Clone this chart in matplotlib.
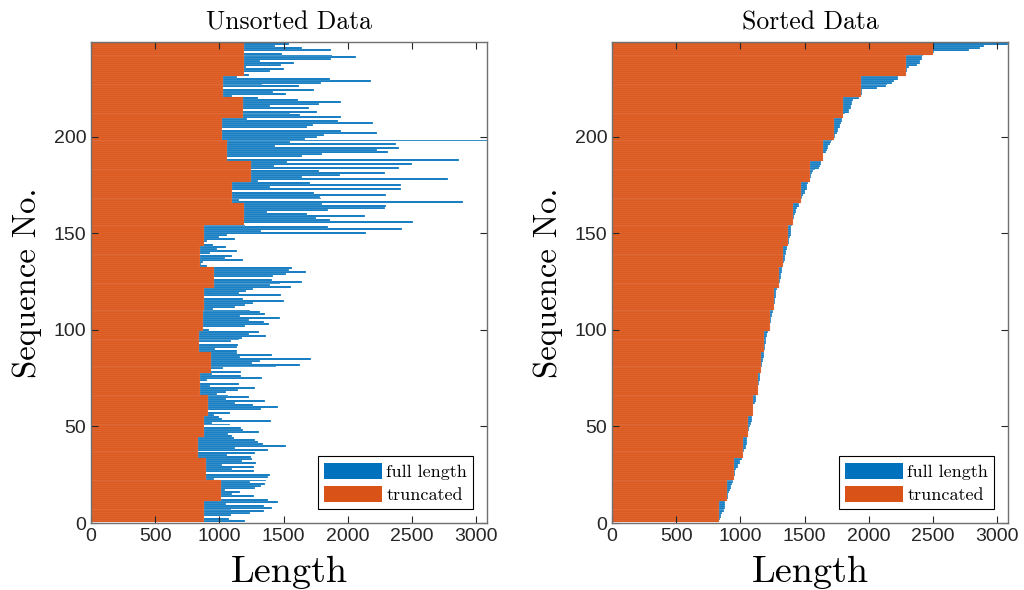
import matplotlib
matplotlib.use('Agg')
import matplotlib.pyplot as plt
import numpy as np

# sequence lengths, sequence 1 .. 248
full_length = [
    1197, 1075, 883, 1089, 1234, 1349, 1089, 1409, 1349, 1052, 1453,
    1380, 1013, 1271, 1096, 1161, 1040, 1279, 1323, 1357, 1234, 1365,
    960, 1378, 1390, 898, 1271, 1096, 1271, 1018, 1286, 1174, 1253,
    1245, 1062, 1279, 833, 1378, 1120, 1518, 1339, 1300, 1279, 1115,
    1100, 1070, 1310, 1182, 1169, 877, 1083, 940, 1404, 1018, 1000,
    960, 1085, 909, 1323, 1453, 1260, 1122, 1357, 1050, 1227, 1070,
    980, 1050, 1148, 1279, 925, 1156, 846, 906, 1331, 1167, 940,
    1170, 938, 1026, 1443, 1630, 1253, 1312, 1713, 1161, 1409, 1135,
    1140, 966, 1135, 1148, 838, 1089, 1156, 1174, 1365, 1227, 1305,
    920, 870, 1200, 1388, 1349, 1227, 1469, 1161, 1357, 1318, 1240,
    950, 1120, 1200, 1260, 1500, 1182, 880, 1479, 1156, 1210, 1260,
    1560, 1396, 1469, 1640, 1409, 961, 1417, 1521, 1677, 1539, 1565,
    900, 860, 875, 1187, 1044, 1096, 846, 930, 1135, 984, 1052,
    950, 877, 906, 1122, 1000, 1057, 2143, 1325, 2419, 1844, 1200,
    1189, 2510, 1859, 1755, 2133, 1682, 1370, 1844, 2286, 2295, 1800,
    2893, 1150, 1792, 1781, 2300, 1734, 1099, 2416, 1396, 2411, 1708,
    1300, 2776, 1643, 1935, 2290, 1773, 1242, 2398, 1422, 2502, 1526,
    2867, 1062, 1643, 1800, 2310, 2229, 2398, 1435, 2372, 1547, 3083,
    1669, 1760, 1812, 2229, 1943, 1018, 1682, 1729, 2198, 1922, 1214,
    1950, 1630, 1547, 1760, 1182, 1695, 1396, 1773, 1943, 1610, 1300,
    1100, 1520, 1420, 1740, 1031, 1617, 1333, 1790, 2180, 1860, 1138,
    1230, 1195, 1396, 1500, 1208, 1480, 1583, 1318, 1865, 2065, 1878,
    1490, 1195, 1870, 1643, 1435, 1539,
]
mini_batch = 11

blue = '#0072BD'
orange = '#D95319'
axcol = '#262626'


def truncate(lengths, size):
    # every sequence in a mini-batch is cut to the shortest one of that batch
    lengths = np.asarray(lengths)
    out = np.empty_like(lengths)
    for start in range(0, len(lengths), size):
        out[start:start + size] = lengths[start:start + size].min()
    return out


unsorted_full = np.array(full_length)
sorted_full = np.sort(unsorted_full)
panels = [('Unsorted Data', unsorted_full, truncate(unsorted_full, mini_batch)),
          ('Sorted Data', sorted_full, truncate(sorted_full, mini_batch))]

fig = plt.figure(figsize=(10.24, 5.9), dpi=100)
lefts = [91 / 1024, 612 / 1024]
serif = 'cmr10'

for left, (title, full, trunc) in zip(lefts, panels):
    ax = fig.add_axes([left, 67 / 590, 396 / 1024, 481 / 590])
    seq = np.arange(1, len(full) + 1)
    ax.barh(seq, full, height=1.0, color=blue, edgecolor='white', linewidth=0.15,
            label='full length')
    ax.barh(seq, trunc, height=1.0, color=orange, edgecolor='#F0A080', linewidth=0.15,
            label='truncated')
    ax.set_xlim(0, unsorted_full.max())
    ax.set_ylim(0, len(full) + 1)
    ax.set_xticks(np.arange(0, 3001, 500))
    ax.set_yticks(np.arange(0, 201, 50))
    ax.tick_params(direction='in', top=True, right=True, length=5, width=0.8,
                   colors=axcol, labelsize=14)
    for lab in ax.get_xticklabels() + ax.get_yticklabels():
        lab.set_family('Liberation Sans')
    for sp in ax.spines.values():
        sp.set_color('#707070')
        sp.set_linewidth(1.0)
    ax.set_title(title, family=serif, fontsize=18.5, color='black', pad=9)
    ax.set_xlabel('Length', family=serif, fontsize=27.5, labelpad=8)
    ax.set_ylabel('Sequence No.', family=serif, fontsize=23.5, labelpad=8)
    leg = ax.legend(loc='lower right', prop={'family': serif, 'size': 13},
                    handlelength=3.2, handleheight=1.05, fancybox=False,
                    framealpha=1, edgecolor='black', borderaxespad=0.75,
                    handletextpad=0.25, labelspacing=0.3, borderpad=0.35)
    leg.get_frame().set_linewidth(0.8)
    for h in leg.legend_handles:
        h.set_edgecolor('none')

fig.savefig('out.png', dpi=100)
